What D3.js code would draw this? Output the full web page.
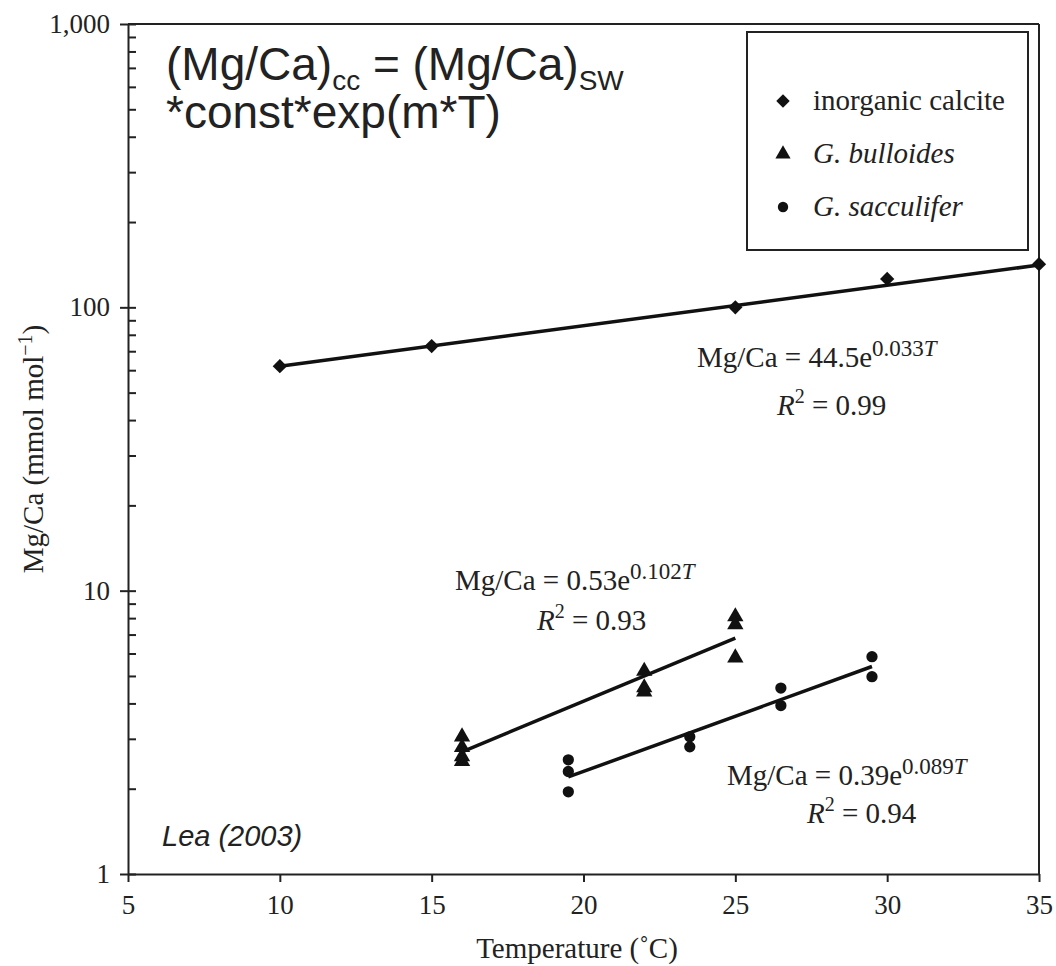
<!DOCTYPE html>
<html>
<head>
<meta charset="utf-8">
<script src="https://cdn.jsdelivr.net/npm/d3@7"></script>
<style>
    body { margin: 0; background: #fff; }
    svg text { font-family: "Liberation Serif", "Times New Roman", serif; fill: #222; }
    .axis path, .axis line { stroke: #222; stroke-width: 2px; }
    .axis text { font-size: 27px; font-family: "Liberation Serif", "Times New Roman", serif; }
</style>
</head>
<body>
<script>
// temperature (C) and Mg/Ca (mmol/mol)
var calciteT = [10, 15, 25, 30, 35],
    calciteMgCa = [62, 73, 100, 126, 142];

var bulloidesT = [16, 16, 16, 16, 22, 22, 22, 25, 25, 25],
    bulloidesMgCa = [3.05, 2.8, 2.6, 2.5, 5.2, 4.55, 4.4, 8.1, 7.6, 5.8];

var sacculiferT = [19.5, 19.5, 19.5, 23.5, 23.5, 26.5, 26.5, 29.5, 29.5],
    sacculiferMgCa = [2.53, 2.3, 1.95, 3.05, 2.81, 4.53, 3.93, 5.85, 4.97];

// fitted lines: end points (T, Mg/Ca)
var fitT = [[10, 35], [16, 25], [19.5, 29.5]],
    fitMgCa = [[62, 141], [2.7, 6.8], [2.2, 5.4]];

// equation labels
var fitCoef = ["44.5", "0.53", "0.39"],
    fitExp = ["0.033", "0.102", "0.089"],
    fitR2 = ["0.99", "0.93", "0.94"];

var xTicks = [5, 10, 15, 20, 25, 30, 35],
    yTicks = [1, 10, 100, 1000],
    yTickLabels = ["1", "10", "100", "1,000"];

var legendNames = ["inorganic calcite", "G. bulloides", "G. sacculifer"];

var margin = {top: 24, right: 17, bottom: 92, left: 128},
    width = 1056 - margin.left - margin.right,
    height = 966 - margin.top - margin.bottom;

var serif = "'Liberation Serif', 'Times New Roman', serif",
    sans = "'Liberation Sans', Arial, sans-serif";

var svg = d3.select("body").append("svg")
        .attr("width", 1056)
        .attr("height", 966)
    .append("g")
        .attr("transform", "translate(" + margin.left + "," + margin.top + ")");

var x = d3.scaleLinear().domain([5, 35]).range([0, width]);
var y = d3.scaleLog().domain([1, 1000]).range([height, 0]);

// minor ticks 2..9 in every decade
var minorTicks = [];
for (var d = 1; d < 1000; d *= 10) {
    for (var k = 2; k < 10; k++) minorTicks.push(d * k);
}

// frame top and right
svg.append("line").attr("x1", 0).attr("x2", width).attr("y1", 0).attr("y2", 0)
    .attr("stroke", "#222").attr("stroke-width", 2);
svg.append("line").attr("x1", width).attr("x2", width).attr("y1", 0).attr("y2", height)
    .attr("stroke", "#222").attr("stroke-width", 2);

// x axis
svg.append("g")
    .attr("class", "axis")
    .attr("transform", "translate(0," + height + ")")
    .call(d3.axisBottom(x).tickValues(xTicks).tickSize(8).tickSizeOuter(0).tickPadding(8))
    .selectAll("text").attr("dy", "0.9em").style("font-family", serif);

// y axis, major ticks outside with labels
svg.append("g")
    .attr("class", "axis")
    .call(d3.axisLeft(y).tickValues(yTicks).tickSize(8).tickSizeOuter(0).tickPadding(10)
        .tickFormat(function(v, i) { return yTickLabels[i]; }))
    .selectAll("text").style("font-family", serif);

// y axis, ticks inside (major + minor)
svg.append("g")
    .attr("class", "axis")
    .call(d3.axisRight(y).tickValues(yTicks.concat(minorTicks)).tickSize(8).tickSizeOuter(0).tickFormat(""))
    .select(".domain").remove();

// axis titles
svg.append("text")
    .attr("x", 577 - margin.left)
    .attr("y", height + 84)
    .style("text-anchor", "middle")
    .style("font-family", serif)
    .style("font-size", "29px")
    .text("Temperature (\u02DAC)");

var yLab = svg.append("text")
    .attr("transform", "translate(" + (43 - margin.left) + "," + (449 - margin.top) + ") rotate(-90)")
    .style("text-anchor", "middle")
    .style("font-family", serif)
    .style("font-size", "29px");
yLab.append("tspan").text("Mg/Ca (mmol mol");
yLab.append("tspan").attr("dy", -11).style("font-size", "20px").text("\u22121");
yLab.append("tspan").attr("dy", 11).text(")");

// fit lines
var line = d3.line()
    .x(function(p) { return x(p[0]); })
    .y(function(p) { return y(p[1]); });

for (var i = 0; i < fitT.length; i++) {
    svg.append("path")
        .datum([[fitT[i][0], fitMgCa[i][0]], [fitT[i][1], fitMgCa[i][1]]])
        .attr("d", line)
        .attr("fill", "none")
        .attr("stroke", "#111")
        .attr("stroke-width", 3.5);
}

var symbols = [d3.symbolDiamond2 || d3.symbolSquare, d3.symbolTriangle, d3.symbolCircle],
    symSizes = [130, 115, 100];

function drawPoints(ts, vs, s) {
    svg.selectAll(null)
        .data(ts.map(function(t, i) { return [t, vs[i]]; }))
        .enter().append("path")
            .attr("d", d3.symbol().type(symbols[s]).size(symSizes[s]))
            .attr("transform", function(p) { return "translate(" + x(p[0]) + "," + y(p[1]) + ")"; })
            .attr("fill", "#111");
}
drawPoints(calciteT, calciteMgCa, 0);
drawPoints(bulloidesT, bulloidesMgCa, 1);
drawPoints(sacculiferT, sacculiferMgCa, 2);

// equation labels
var eqPos = [[697, 367, 777, 415], [455, 590, 537, 630], [727, 785, 807, 823]];
for (var i = 0; i < eqPos.length; i++) {
    var p = eqPos[i];
    var t1 = svg.append("text")
        .attr("x", p[0] - margin.left).attr("y", p[1] - margin.top)
        .style("font-family", serif)
        .style("font-size", "29px");
    t1.append("tspan").text("Mg/Ca = " + fitCoef[i] + "e");
    t1.append("tspan").attr("dy", -11).style("font-size", "23px").text(fitExp[i]);
    t1.append("tspan").style("font-size", "23px").style("font-style", "italic").text("T");

    var t2 = svg.append("text")
        .attr("x", p[2] - margin.left).attr("y", p[3] - margin.top)
        .style("font-family", serif)
        .style("font-size", "29px");
    t2.append("tspan").style("font-style", "italic").text("R");
    t2.append("tspan").attr("dy", -12).style("font-size", "20px").text("2");
    t2.append("tspan").attr("dy", 12).text(" = " + fitR2[i]);
}

// legend box
svg.append("rect")
    .attr("x", 747 - margin.left).attr("y", 32 - margin.top)
    .attr("width", 281).attr("height", 218)
    .attr("fill", "#fff").attr("stroke", "#222").attr("stroke-width", 2);

var legend = svg.selectAll(".legend")
    .data(legendNames)
    .enter().append("g")
        .attr("class", "legend")
        .attr("transform", function(n, i) { return "translate(" + (783 - margin.left) + "," + (101 + i * 53 - margin.top) + ")"; });

legend.append("path")
    .attr("d", function(n, i) { return d3.symbol().type(symbols[i]).size(symSizes[i] - 15)(); })
    .attr("fill", "#111");

legend.append("text")
    .attr("x", 30)
    .attr("y", 9)
    .style("font-family", serif)
    .style("font-size", "29px")
    .style("font-style", function(n, i) { return i == 0 ? "normal" : "italic"; })
    .text(function(n) { return n; });

// overlay notes
var note = svg.append("text")
    .attr("x", 166 - margin.left).attr("y", 80 - margin.top)
    .style("font-family", sans)
    .style("font-size", "46px");
note.append("tspan").text("(Mg/Ca)");
note.append("tspan").attr("dy", 10).style("font-size", "28px").text("cc");
note.append("tspan").attr("dy", -10).text(" = (Mg/Ca)");
note.append("tspan").attr("dy", 10).style("font-size", "28px").text("SW");
note.append("tspan").attr("x", 166 - margin.left).attr("y", 128 - margin.top).text("*const*exp(m*T)");

svg.append("text")
    .attr("x", 162 - margin.left).attr("y", 846 - margin.top)
    .style("font-family", sans)
    .style("font-style", "italic")
    .style("font-size", "29px")
    .text("Lea (2003)");
</script>
</body>
</html>
